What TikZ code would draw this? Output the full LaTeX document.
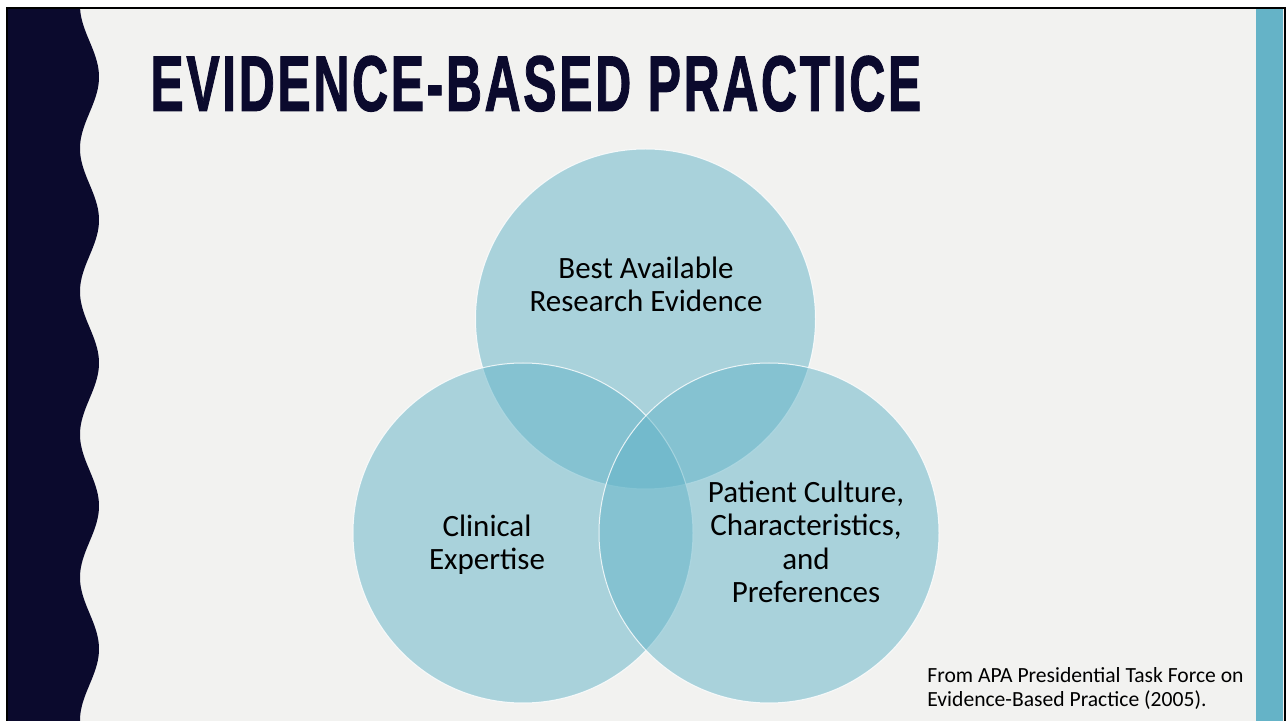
\documentclass[tikz,border=0pt]{standalone}
\usepackage{fontspec}
\setmainfont{Carlito}
\newfontfamily\headfont[FakeBold=1.5, LetterSpace=5]{Liberation Sans}

\definecolor{slidebg}{RGB}{242,242,240}
\definecolor{navy}{RGB}{11,10,45}
\definecolor{stripteal}{RGB}{101,179,199}
\definecolor{ringteal}{RGB}{98,180,200}

\tikzset{
  ring/.style={circle, minimum size=170pt, inner sep=0pt, fill=ringteal,
    fill opacity=0.5, draw=white, draw opacity=0.8, line width=0.5pt},
  ringtext/.style={font=\fontsize{15.5}{16.75}\selectfont, align=center,
    anchor=base, inner sep=0pt}
}

\begin{document}
\begin{tikzpicture}[x=0.5pt, y=-0.5pt]
  \useasboundingbox (0,0) rectangle (1286,721);
  \fill[slidebg] (7,8) rectangle (1284,721);
  % wavy edge: 143px period, 360/143 = 2.5175
  \fill[navy] (6,8) -- plot[domain=8:721, samples=160, smooth]
    ({89.5+9.5*cos(2.5175*(\x-77))}, \x) -- (6,721) -- cycle;
  \fill[stripteal] (1256,8) rectangle (1283,721);
  \draw[line width=1pt] (7,730) -- (7,8) -- (1284.5,8) -- (1284.5,730);

  \node[anchor=south west, inner sep=0pt, text=navy] (title) at (150,112)
    {\resizebox{385.5pt}{27.5pt}{\headfont\bfseries EVIDENCE-BASED PRACTICE}};

  \node[ring] (research) at (645.5,319) {};
  \node[ring] (expertise) at (523,533) {};
  \node[ring] (patient) at (769,533) {};

  % base anchor sits on the last line
  \node[ringtext] (researchtext) at (646,312) {Best Available\\Research Evidence};
  \node[ringtext] (expertisetext) at (487,570) {Clinical\\Expertise};
  \node[ringtext] (patienttext) at (806,603)
    {Patient Culture,\\Characteristics,\\and\\Preferences};

  \node[anchor=base west, align=left, inner sep=0pt,
    font=\fontsize{10.8}{12}\selectfont] (source) at (927,706)
    {From APA Presidential Task Force on\\Evidence-Based Practice (2005).};
\end{tikzpicture}
\end{document}
